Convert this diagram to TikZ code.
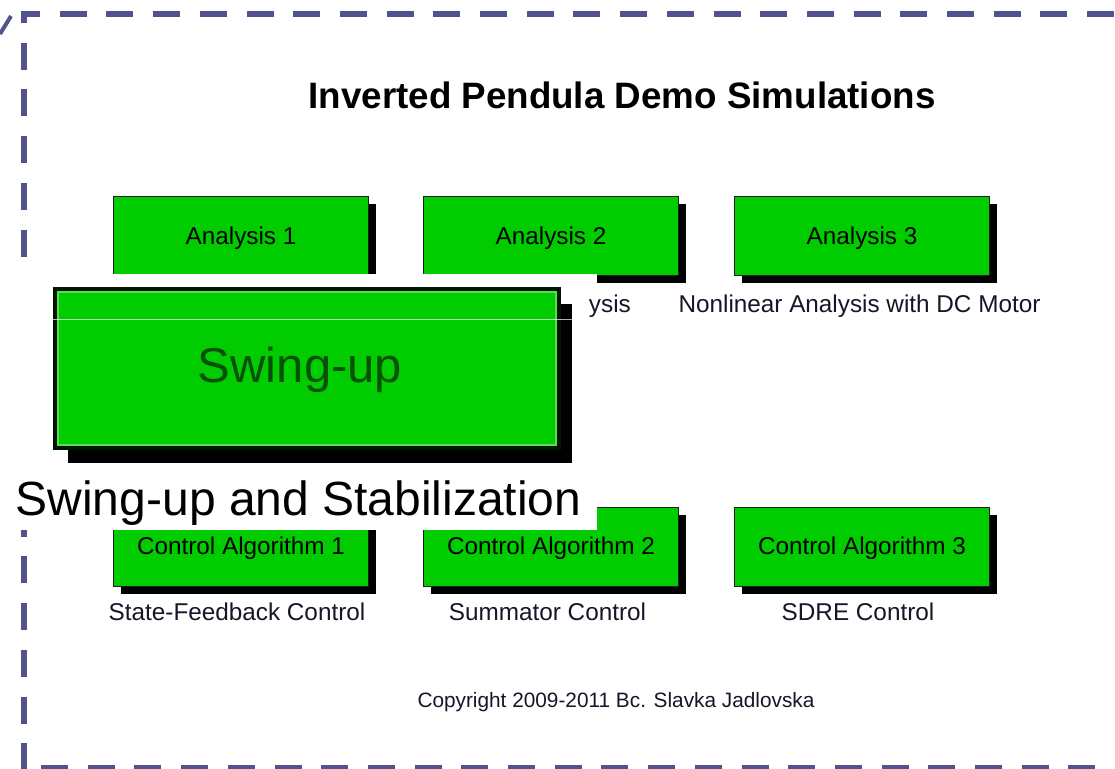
\documentclass[tikz,border=0pt]{standalone}
\usepackage{fontspec}
\setmainfont{Liberation Sans}
\usetikzlibrary{shadows}
\definecolor{dashc}{RGB}{82,82,140}
\definecolor{boxg}{RGB}{0,204,0}
\definecolor{swtxt}{RGB}{8,80,8}
\definecolor{lblc}{RGB}{22,22,40}
\definecolor{bigedge}{RGB}{0,22,0}
\begin{document}
\begin{tikzpicture}[x=1pt,y=-1pt,
  gbox/.style={draw={rgb,255:red,30;green,30;blue,30}, line width=1pt, fill=boxg,
    minimum width=255pt, minimum height=79pt, inner sep=0pt, anchor=north west,
    text height=17.4pt, text depth=0pt,
    font=\fontsize{24.3}{29}\selectfont, text=black,
    general shadow={fill=black, shadow xshift=7pt, shadow yshift=-7pt}},
  lbl/.style={font=\fontsize{24.3}{29}\selectfont, text=lblc, inner sep=0pt, anchor=base},
  border/.style={draw=dashc, line width=6pt}
]
\useasboundingbox (0,0) rectangle (1115,768);
\fill[white] (0,0) rectangle (1115,768);

% dashed frame
\draw[border, dash pattern=on 27pt off 19.7pt, dash phase=8pt] (21,14) -- (1120,14);
\draw[border, dash pattern=on 27pt off 19.7pt, dash phase=15pt] (24,11) -- (24,775);
\draw[border, dash pattern=on 27pt off 19.7pt] (41,768) -- (1120,768);
\draw[draw=dashc, line width=4pt] (0,34) -- (11,16);

% title
\node[font=\bfseries\fontsize{36.75}{44}\selectfont, inner sep=0pt, anchor=base] (title) at (622,108) {Inverted Pendula Demo Simulations};

% analysis boxes
\node[gbox] (a1) at (113,196) {Analysis 1};
\node[gbox] (a2) at (423,196) {Analysis 2};
\node[gbox] (a3) at (734,196) {Analysis 3};
\node[lbl] (l3) at (859.5,312) {Nonlinear Analysis with DC Motor};

% control boxes
\node[gbox, text height=15.6pt] (c1) at (113,507) {Control Algorithm 1};
\node[gbox, text height=15.6pt] (c2) at (423,507) {Control Algorithm 2};
\node[gbox, text height=15.6pt] (c3) at (734,507) {Control Algorithm 3};
\node[lbl] (k1) at (237,620) {State-Feedback Control};
\node[lbl] (k2) at (547.5,620) {Summator Control};
\node[lbl] (k3) at (858,620) {SDRE Control};

% copyright
\node[font=\fontsize{20.8}{25}\selectfont, text=lblc, inner sep=0pt, anchor=base] (copy) at (616,707) {Copyright 2009-2011 Bc. Slavka Jadlovska};

% overlay
\fill[white] (0,274) rectangle (597,530);
\node[lbl, anchor=base east] (l2) at (631,312) {ysis};
\node[draw=bigedge, line width=4pt, fill=boxg, minimum width=504pt, minimum height=159pt,
  inner sep=0pt, anchor=north west, text height=35.1pt, text depth=0pt,
  general shadow={fill=black, shadow xshift=13pt, shadow yshift=-15pt}] (sw) at (53,287) {};
\node[font=\fontsize{49}{58}\selectfont, text=swtxt, inner sep=0pt, anchor=base] (swt) at (300,382) {Swing-up};
\draw[white, opacity=0.35, line width=1.5pt] ([shift={(5,5)}]sw.north west) rectangle ([shift={(-5,-5)}]sw.south east);
\draw[white, opacity=0.7, line width=0.8pt] (53,319) -- (597,319);
\node[font=\fontsize{48}{58}\selectfont, text=black, inner sep=0pt, anchor=base] (swl) at (298.5,515) {Swing-up and Stabilization};
\end{tikzpicture}
\end{document}
